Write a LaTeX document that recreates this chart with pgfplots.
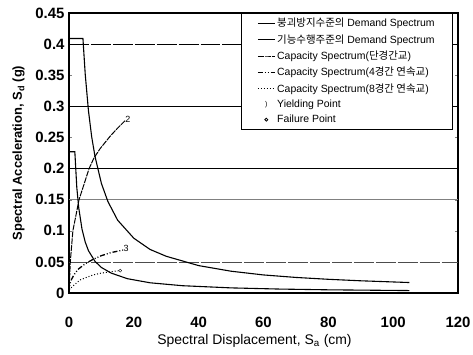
\documentclass[border=0pt]{standalone}
\usepackage{fontspec}
\setmainfont{Liberation Sans}
\newfontfamily\kr{Noto Sans CJK KR}
\usepackage{pgfplots}
\pgfplotsset{compat=1.18}
\usetikzlibrary{plotmarks}
\begin{document}
\begin{tikzpicture}
\begin{axis}[
  scale only axis,
  width=389bp, height=280bp,
  xmin=0, xmax=120, ymin=0, ymax=0.45,
  xtick={0,20,...,120},
  ytick={0,0.05,...,0.45},
  yticklabels={0,0.05,0.1,0.15,0.2,0.25,0.3,0.35,0.4,0.45},
  xticklabel style={font=\fontsize{15}{17}\selectfont\bfseries, yshift=-21bp},
  yticklabel style={font=\fontsize{15}{17}\selectfont\bfseries, xshift=-1bp},
  /pgf/number format/assume math mode=true,
  tick align=inside,
  major tick length=3pt,
  xtick style={draw=none},
  axis line style={line width=1.2pt},
  xlabel={Spectral Displacement, S\textsubscript{a} (cm)},
  ylabel={\bfseries Spectral Acceleration, S\textsubscript{d} (g)},
  xlabel style={font=\fontsize{14}{16}\selectfont, yshift=1pt, xshift=-9bp},
  ylabel style={font=\fontsize{13}{15}\selectfont, yshift=4pt},
  legend cell align=left,
  legend style={at={(rel axis cs:0.987,1)}, anchor=north east, draw=black, fill=white,
    font=\fontsize{10.5}{12}\selectfont, row sep=2.2pt, inner xsep=16bp, inner ysep=3bp, line width=0.6pt},
  legend image post style={line width=0.8pt},
]
% grid-like horizontal lines
\addplot[forget plot, black, line width=0.6pt, dash pattern=on 20pt off 2pt] coordinates {(0,0.4) (120,0.4)};
\addplot[forget plot, black, line width=0.6pt] coordinates {(0,0.3) (120,0.3)};
\addplot[forget plot, black, line width=0.6pt] coordinates {(0,0.2) (120,0.2)};
\addplot[forget plot, gray, line width=1pt] coordinates {(0,0.15) (120,0.15)};
\addplot[forget plot, black!70, line width=0.6pt, dash pattern=on 20pt off 2pt] coordinates {(0,0.05) (120,0.05)};

\addplot[black, line width=1.1pt] coordinates {
(0,0.409) (4.3,0.409) (5,0.352) (6,0.293) (7,0.251) (8,0.22) (10,0.176) (12,0.147)
(15,0.117) (20,0.088) (25,0.070) (30,0.059) (40,0.044) (50,0.035) (60,0.029)
(70,0.025) (80,0.022) (90,0.0196) (105,0.0168)};
\addlegendentry{{\kr 붕괴방지수준의} Demand Spectrum}

\addplot[black, line width=1.1pt] coordinates {
(0,0.227) (1.8,0.227) (2.4,0.17) (3,0.137) (4,0.103) (5,0.082) (6,0.068) (8,0.051)
(10,0.041) (13,0.032) (18,0.023) (25,0.0164) (35,0.0117) (50,0.0082) (65,0.0063)
(80,0.0051) (105,0.0039)};
\addlegendentry{{\kr 기능수행주준의} Demand Spectrum}

\addplot[black, line width=1pt, dash pattern=on 6pt off 1pt] coordinates {
(0,0) (0.4,0.05) (1.2,0.1) (3.1,0.15) (6.2,0.2) (7.7,0.217) (9.6,0.232)
(12.7,0.252) (15,0.265) (17.3,0.277)};
\addlegendentry{Capacity Spectrum({\kr 단경간교})}

\addplot[black, line width=1.3pt, dash pattern=on 5pt off 2pt on 1pt off 2pt on 1pt off 2pt] coordinates {
(0,0) (0.3,0.015) (0.8,0.022) (1.5,0.029) (2.8,0.038) (5,0.047) (7.4,0.054)
(10,0.060) (13,0.065) (16.7,0.069)};
\addlegendentry{Capacity Spectrum(4{\kr 경간 연속교})}

\addplot[black, line width=1pt, dotted] coordinates {
(0,0.005) (1.2,0.011) (3.4,0.021) (7.4,0.029) (10,0.032) (12.7,0.034) (15.5,0.036)};
\addlegendentry{Capacity Spectrum(8{\kr 경간 연속교})}

\addlegendimage{only marks, mark=text, text mark={\scriptsize )}}
\addlegendentry{Yielding Point}
\addplot[only marks, mark=o, mark size=1.5pt, black] coordinates {(15.8,0.036)};
\addlegendentry{Failure Point}

\node[font=\small, anchor=west, inner sep=1pt] at (axis cs:17.0,0.279) {2};
\node[font=\small, anchor=west, inner sep=1pt] at (axis cs:16.5,0.071) {3};
\end{axis}
\pgfresetboundingbox
\useasboundingbox ([shift={(-69bp,-62bp)}]current axis.south west) rectangle ([shift={(15bp,13bp)}]current axis.north east);
\end{tikzpicture}
\end{document}
